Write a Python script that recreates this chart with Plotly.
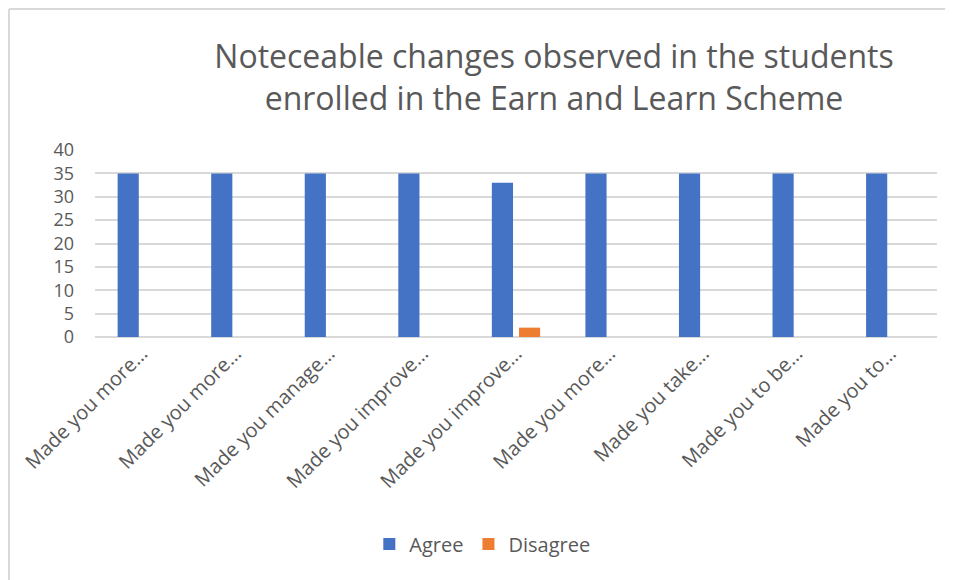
import plotly.graph_objects as go

# survey statements (truncated as in the source chart)
labels = ['Made you more…', 'Made you more…', 'Made you manage…', 'Made you improve…',
          'Made you improve…', 'Made you more…', 'Made you take…', 'Made you to be…',
          'Made you to…']
agree = [35, 35, 35, 35, 33, 35, 35, 35, 35]
disagree = [0, 0, 0, 0, 2, 0, 0, 0, 0]
y_ticks = [0, 5, 10, 15, 20, 25, 30, 35, 40]

pos = list(range(len(labels)))
txt = '#595959'
grid = '#d9d9d9'

# the page body adds an 8px offset, so the figure is laid out 8px smaller
W, H = 945, 572
L, T, R, B = 87, 142, 16, 243
pw, ph = W - L - R, H - T - B

fig = go.Figure()
fig.add_trace(go.Bar(x=pos, y=agree, name='Agree', marker=dict(color='#4472C4', line=dict(width=0))))
fig.add_trace(go.Bar(x=pos, y=disagree, name='Disagree', marker=dict(color='#ED7D31', line=dict(width=0))))

fig.update_layout(
    width=W, height=H,
    margin=dict(l=L, r=R, t=T, b=B),
    paper_bgcolor='white', plot_bgcolor='white',
    font=dict(family='Open Sans', color=txt),
    barmode='group', bargap=0.42, bargroupgap=0.22,
    title=dict(text='Noteceable changes observed in the students<br>enrolled in the Earn and Learn Scheme',
               x=546 / W, xanchor='center', xref='container',
               y=1 - 60 / H, yanchor='middle', yref='container',
               font=dict(size=32, color=txt, family='Open Sans')),
    legend=dict(orientation='h', x=0.46, xanchor='center', y=-(536 - T - ph) / ph, yanchor='middle',
                font=dict(size=20, color=txt), itemwidth=30, traceorder='normal'),
    showlegend=True,
)
fig.update_xaxes(tickvals=pos, ticktext=labels, tickangle=-45, tickfont=dict(size=20, color=txt),
                 showgrid=False, showline=False, zeroline=False, ticks='', range=[-0.5, 8.5])
fig.update_yaxes(range=[0, 40], tickvals=y_ticks, tickfont=dict(size=18, color=txt),
                 showgrid=True, gridcolor=grid, gridwidth=1.5, zeroline=True, zerolinecolor=grid,
                 zerolinewidth=1.5, showline=False, ticks='', ticklabelstandoff=20)

# chart-area border (left and top edges visible in the screenshot)
fig.add_shape(type='line', xref='paper', yref='paper', x0=-(L - 1) / pw, x1=-(L - 1) / pw,
              y0=1 + (T - 1) / ph, y1=-B / ph, line=dict(color=grid, width=2))
fig.add_shape(type='line', xref='paper', yref='paper', x0=-(L - 1) / pw, x1=1 + R / pw,
              y0=1 + (T - 1) / ph, y1=1 + (T - 1) / ph, line=dict(color=grid, width=2))

fig.write_html('out.html')
